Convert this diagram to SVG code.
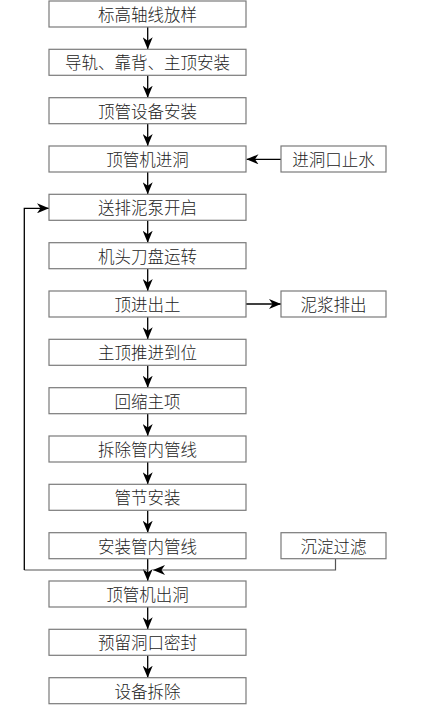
<svg xmlns="http://www.w3.org/2000/svg" width="428" height="709" viewBox="0 0 428 709">
<style>
.box rect{fill:#fff;stroke:#7a7a7a;stroke-width:1.2}
.box text{font-family:"Noto Sans CJK SC","Noto Sans",sans-serif;font-size:16.5px;font-weight:300;fill:#222;text-anchor:middle;dominant-baseline:central}
.conn path{fill:none;stroke:#000;stroke-width:1.3}
.conn path.thin{stroke:#555;stroke-width:1.2}
</style>
<defs>
<marker id="ah" markerUnits="userSpaceOnUse" markerWidth="12" markerHeight="10" refX="12" refY="5" orient="auto">
<path d="M0,0 L12,5 L0,10 L3.5,5 Z" fill="#000"/>
</marker>
</defs>
<rect width="428" height="709" fill="#fff"/>
<g class="conn">
<path d="M147.7,27 V49.3" marker-end="url(#ah)"/>
<path d="M147.7,75.3 V97.7" marker-end="url(#ah)"/>
<path d="M147.7,123.7 V146" marker-end="url(#ah)"/>
<path d="M147.7,172 V194.3" marker-end="url(#ah)"/>
<path d="M147.7,220.3 V242.7" marker-end="url(#ah)"/>
<path d="M147.7,268.7 V291" marker-end="url(#ah)"/>
<path d="M147.7,317 V339.3" marker-end="url(#ah)"/>
<path d="M147.7,365.3 V387.7" marker-end="url(#ah)"/>
<path d="M147.7,413.7 V436" marker-end="url(#ah)"/>
<path d="M147.7,462 V484.3" marker-end="url(#ah)"/>
<path d="M147.7,510.3 V532.7" marker-end="url(#ah)"/>
<path d="M147.7,558.7 V581" marker-end="url(#ah)"/>
<path d="M147.7,607 V629.3" marker-end="url(#ah)"/>
<path d="M147.7,655.3 V677.7" marker-end="url(#ah)"/>
<path d="M281,159.3 H246.5" marker-end="url(#ah)"/>
<path d="M246,304 H281" marker-end="url(#ah)"/>
<path class="thin" d="M335.5,559 V570 H153" marker-end="url(#ah)"/>
<path class="thin" d="M148,570 H24.3"/>
<path d="M24.3,570 V208.3 H49" marker-end="url(#ah)"/>
</g>
<g id="n1" class="box"><rect x="49" y="1" width="197" height="26"/><text x="147.5" y="14">标高轴线放样</text></g>
<g id="n2" class="box"><rect x="49" y="49.3" width="197" height="26"/><text x="147.5" y="62.3">导轨、靠背、主顶安装</text></g>
<g id="n3" class="box"><rect x="49" y="97.7" width="197" height="26"/><text x="147.5" y="110.7">顶管设备安装</text></g>
<g id="n4" class="box"><rect x="49" y="146" width="197" height="26"/><text x="147.5" y="159">顶管机进洞</text></g>
<g id="n5" class="box"><rect x="49" y="194.3" width="197" height="26"/><text x="147.5" y="207.3">送排泥泵开启</text></g>
<g id="n6" class="box"><rect x="49" y="242.7" width="197" height="26"/><text x="147.5" y="255.7">机头刀盘运转</text></g>
<g id="n7" class="box"><rect x="49" y="291" width="197" height="26"/><text x="147.5" y="304">顶进出土</text></g>
<g id="n8" class="box"><rect x="49" y="339.3" width="197" height="26"/><text x="147.5" y="352.3">主顶推进到位</text></g>
<g id="n9" class="box"><rect x="49" y="387.7" width="197" height="26"/><text x="147.5" y="400.7">回缩主项</text></g>
<g id="n10" class="box"><rect x="49" y="436" width="197" height="26"/><text x="147.5" y="449">拆除管内管线</text></g>
<g id="n11" class="box"><rect x="49" y="484.3" width="197" height="26"/><text x="147.5" y="497.3">管节安装</text></g>
<g id="n12" class="box"><rect x="49" y="532.7" width="197" height="26"/><text x="147.5" y="545.7">安装管内管线</text></g>
<g id="n13" class="box"><rect x="49" y="581" width="197" height="26"/><text x="147.5" y="594">顶管机出洞</text></g>
<g id="n14" class="box"><rect x="49" y="629.3" width="197" height="26"/><text x="147.5" y="642.3">预留洞口密封</text></g>
<g id="n15" class="box"><rect x="49" y="677.7" width="197" height="26"/><text x="147.5" y="690.7">设备拆除</text></g>
<g id="r1" class="box"><rect x="281" y="146" width="105" height="26"/><text x="333.5" y="159">进洞口止水</text></g>
<g id="r2" class="box"><rect x="281" y="291" width="105" height="26"/><text x="333.5" y="304">泥浆排出</text></g>
<g id="r3" class="box"><rect x="281" y="532.7" width="105" height="26"/><text x="333.5" y="545.7">沉淀过滤</text></g>
</svg>
